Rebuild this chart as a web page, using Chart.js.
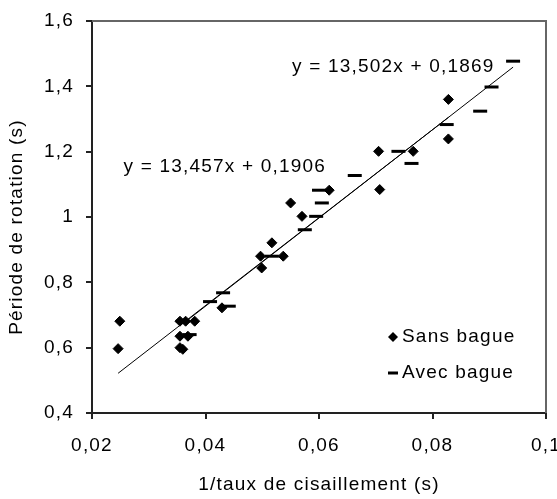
<!DOCTYPE html>
<html><head><meta charset="utf-8">
<script src="https://cdn.jsdelivr.net/npm/chart.js@4.4.1/dist/chart.umd.min.js"></script>
<style>html,body{margin:0;padding:0;background:#fff;}#wrap{width:557px;height:499px;position:relative;}</style>
</head><body><div id="wrap"><canvas id="c" width="557" height="499"></canvas></div>
<script>
// ---- data ----
const sansX = [0.0249, 0.0246, 0.0355, 0.0365, 0.0381, 0.0355, 0.0369, 0.0355, 0.0360, 0.0429, 0.0497, 0.0499, 0.0517, 0.0537, 0.0550, 0.0570, 0.0618, 0.0705, 0.0707, 0.0766, 0.0828, 0.0828];
const sansY = [0.681, 0.597, 0.681, 0.681, 0.681, 0.635, 0.635, 0.600, 0.595, 0.722, 0.880, 0.844, 0.921, 0.880, 1.043, 1.002, 1.082, 1.201, 1.084, 1.201, 1.360, 1.239];
const avecX = [0.0360, 0.0372, 0.0408, 0.0431, 0.0441, 0.0517, 0.0575, 0.0595, 0.0600, 0.0605, 0.0663, 0.0740, 0.0763, 0.0825, 0.0884, 0.0904, 0.0942];
const avecY = [0.681, 0.640, 0.741, 0.768, 0.727, 0.880, 0.961, 1.002, 1.082, 1.043, 1.127, 1.201, 1.164, 1.283, 1.324, 1.398, 1.477];
const trendSansX = [0.0246, 0.0828];
const trendSansY = [0.5216, 1.3048];
const trendAvecX = [0.0360, 0.0942];
const trendAvecY = [0.6730, 1.4588];
const xTicks = [0.02, 0.04, 0.06, 0.08, 0.1];
const xTickLabels = ['0,02', '0,04', '0,06', '0,08', '0,1'];
const yTicks = [0.4, 0.6, 0.8, 1.0, 1.2, 1.4, 1.6];
const yTickLabels = ['0,4', '0,6', '0,8', '1', '1,2', '1,4', '1,6'];
const seriesNames = ['Sans bague', 'Avec bague'];
const equations = ['y = 13,457x + 0,1906', 'y = 13,502x + 0,1869'];
const xTitle = '1/taux de cisaillement (s)';
const yTitle = 'Période de rotation (s)';

const FONT = 'Liberation Sans';
const FS = 19;
const TXT = '#000';
const LS = '1.2px';

const toPts = (xs, ys) => xs.map((x, i) => ({x: x, y: ys[i]}));

const spacingPlugin = {
  id: 'spacing',
  beforeLayout(chart) { chart.ctx.letterSpacing = LS; },
  beforeDraw(chart) { chart.ctx.letterSpacing = LS; }
};

const decoPlugin = {
  id: 'deco',
  beforeDatasetsDraw(chart) {
    const {ctx, chartArea: a} = chart;
    ctx.save();
    ctx.strokeStyle = '#666';
    ctx.lineWidth = 2;
    ctx.beginPath();
    ctx.moveTo(a.left, a.top);
    ctx.lineTo(a.right, a.top);
    ctx.lineTo(a.right, a.bottom);
    ctx.stroke();
    ctx.restore();
  },
  afterDatasetsDraw(chart) {
    const {ctx, chartArea: a, scales} = chart;
    ctx.save();
    ctx.letterSpacing = LS;
    ctx.fillStyle = TXT;
    ctx.font = FS + 'px "' + FONT + '"';
    ctx.textAlign = 'center';
    ctx.textBaseline = 'middle';
    // trendline equations
    ctx.fillText(equations[0], scales.x.getPixelForValue(0.0434), scales.y.getPixelForValue(1.154));
    ctx.fillText(equations[1], scales.x.getPixelForValue(0.0731), scales.y.getPixelForValue(1.459));
    // y axis title
    ctx.save();
    ctx.translate(17, (a.top + a.bottom) / 2 + 10);
    ctx.rotate(-Math.PI / 2);
    ctx.fillText(yTitle, 0, 0);
    ctx.restore();
    // legend
    const lx = a.right - 153;
    const ly1 = a.top + 316, ly2 = a.top + 352;
    ctx.fillStyle = '#000';
    ctx.beginPath();
    ctx.moveTo(lx, ly1 - 5); ctx.lineTo(lx + 5, ly1); ctx.lineTo(lx, ly1 + 5); ctx.lineTo(lx - 5, ly1); ctx.closePath();
    ctx.fill();
    ctx.fillRect(lx - 5, ly2 - 1.5, 10, 3);
    ctx.fillStyle = TXT;
    ctx.textAlign = 'left';
    ctx.fillText(seriesNames[0], lx + 9, ly1);
    ctx.fillText(seriesNames[1], lx + 9, ly2);
    ctx.restore();
  }
};

new Chart(document.getElementById('c'), {
  type: 'scatter',
  data: {
    datasets: [
      {label: seriesNames[0], data: toPts(sansX, sansY), pointStyle: 'rectRot', pointRadius: 5, backgroundColor: '#000', borderColor: '#000', borderWidth: 1, order: 1},
      {label: seriesNames[1], data: toPts(avecX, avecY), pointStyle: 'line', pointRadius: 7, backgroundColor: '#000', borderColor: '#000', borderWidth: 3, order: 1},
      {label: 'trend1', data: toPts(trendSansX, trendSansY), showLine: true, pointRadius: 0, borderColor: '#000', borderWidth: 1, order: 2},
      {label: 'trend2', data: toPts(trendAvecX, trendAvecY), showLine: true, pointRadius: 0, borderColor: '#000', borderWidth: 1, order: 2}
    ]
  },
  options: {
    responsive: false,
    animation: false,
    events: [],
    layout: {padding: {top: 21, right: 11, left: 0, bottom: 0}},
    plugins: {legend: {display: false}, tooltip: {enabled: false}},
    scales: {
      x: {
        type: 'linear', min: 0.02, max: 0.1,
        afterBuildTicks: s => { s.ticks = xTicks.map(v => ({value: v})); },
        afterFit: s => { s.height = 86; s.paddingLeft = 0; s.paddingRight = 0; },
        ticks: {callback: (v, i) => xTickLabels[i], color: TXT, font: {family: FONT, size: FS}, padding: 15, maxRotation: 0, autoSkip: false},
        grid: {drawOnChartArea: false, drawTicks: true, tickLength: 6, color: '#222', lineWidth: 2},
        border: {display: true, color: '#222', width: 2},
        title: {display: true, text: xTitle, color: TXT, font: {family: FONT, size: FS, lineHeight: 1.1}}
      },
      y: {
        type: 'linear', min: 0.4, max: 1.6,
        afterBuildTicks: s => { s.ticks = yTicks.map(v => ({value: v})); },
        afterFit: s => { s.width = 92; s.paddingTop = 0; s.paddingBottom = 0; },
        ticks: {callback: (v, i) => yTickLabels[i], color: TXT, font: {family: FONT, size: FS}, padding: 12, autoSkip: false},
        grid: {drawOnChartArea: false, drawTicks: true, tickLength: 6, color: '#222', lineWidth: 2},
        border: {display: true, color: '#222', width: 2},
        title: {display: false, text: yTitle}
      }
    }
  },
  plugins: [spacingPlugin, decoPlugin]
});
</script>
</body></html>
